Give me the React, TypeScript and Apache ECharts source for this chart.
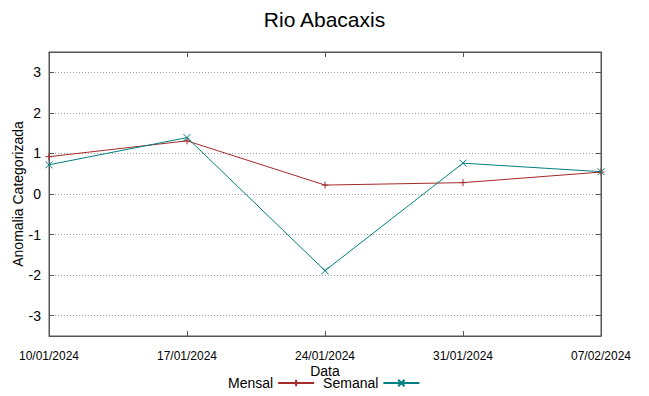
import React, { useEffect, useRef } from "react";
import * as echarts from "echarts";

const dates = ["10/01/2024", "17/01/2024", "24/01/2024", "31/01/2024", "07/02/2024"];
const mensal = [0.92, 1.31, 0.22, 0.28, 0.54];
const semanal = [0.72, 1.39, -1.89, 0.76, 0.55];
const yTicks = [-3, -2, -1, 0, 1, 2, 3];

const FONT = "Liberation Sans";
const RED = "#a52a2a";
const TEAL = "#008080";

export default function App() {
  const ref = useRef<HTMLDivElement>(null);
  useEffect(() => {
    const chart = echarts.init(ref.current!, null, { renderer: "svg" });
    chart.setOption({
      animation: false,
      title: {
        text: "Rio Abacaxis",
        left: "center",
        top: 4,
        textStyle: { fontFamily: FONT, fontSize: 21, fontWeight: "normal", color: "#000" },
      },
      legend: {
        left: 223,
        top: 371,
        align: "right",
        itemWidth: 36,
        itemHeight: 8,
        itemGap: 8,
        textStyle: { fontFamily: FONT, fontSize: 14, color: "#000" },
        data: ["Mensal", "Semanal"],
      },
      grid: {
        left: 49,
        right: 48,
        top: 52,
        bottom: 60,
        show: true,
        borderColor: "#555",
        borderWidth: 1,
        backgroundColor: "transparent",
        containLabel: false,
        outerBoundsMode: "none",
      },
      xAxis: [
        {
          type: "category",
          data: dates,
          boundaryGap: false,
          position: "bottom",
          name: "Data",
          nameLocation: "middle",
          nameGap: 28,
          nameMoveOverlap: false,
          nameTextStyle: { fontFamily: FONT, fontSize: 14, color: "#000" },
          axisLine: { show: true, onZero: false, lineStyle: { color: "#555" } },
          axisTick: { inside: true, length: 5, lineStyle: { color: "#555" } },
          axisLabel: { fontFamily: FONT, fontSize: 12, color: "#000", margin: 14 },
          splitLine: { show: false },
        },
        {
          type: "category",
          data: dates,
          boundaryGap: false,
          position: "top",
          axisLine: { show: true, onZero: false, lineStyle: { color: "#555" } },
          axisTick: { inside: true, length: 5, lineStyle: { color: "#555" } },
          axisLabel: { show: false },
          splitLine: { show: false },
        },
      ],
      yAxis: [
        {
          type: "value",
          min: -3.5,
          max: 3.5,
          position: "left",
          name: "Anomalia Categorizada",
          nameLocation: "middle",
          nameGap: 24,
          nameMoveOverlap: false,
          nameTextStyle: { fontFamily: FONT, fontSize: 14, color: "#000" },
          axisLine: { show: true, onZero: false, lineStyle: { color: "#555" } },
          axisTick: { show: true, inside: true, length: 5, customValues: yTicks, lineStyle: { color: "#555" } },
          axisLabel: { fontFamily: FONT, fontSize: 14, color: "#000", margin: 8, customValues: yTicks },
          splitLine: { show: true, lineStyle: { color: "#a0a0a0", type: [1, 2], width: 1 } },
        },
        {
          type: "value",
          min: -3.5,
          max: 3.5,
          position: "right",
          axisLine: { show: true, onZero: false, lineStyle: { color: "#555" } },
          axisTick: { show: true, inside: true, length: 5, customValues: yTicks, lineStyle: { color: "#555" } },
          axisLabel: { show: false, customValues: yTicks },
          splitLine: { show: false },
        },
      ],
      series: [
        {
          name: "Mensal",
          type: "line",
          data: mensal,
          symbol: "path://M0,4L8,4M4,0L4,8",
          symbolSize: 7,
          showAllSymbol: true,
          lineStyle: { color: RED, width: 1 },
          itemStyle: { color: RED, borderColor: RED, borderWidth: 1 },
        },
        {
          name: "Semanal",
          type: "line",
          data: semanal,
          symbol: "path://M0,0L8,8M8,0L0,8",
          symbolSize: 7,
          showAllSymbol: true,
          lineStyle: { color: TEAL, width: 1 },
          itemStyle: { color: TEAL, borderColor: TEAL, borderWidth: 1 },
        },
      ],
    });
    return () => chart.dispose();
  }, []);
  return <div ref={ref} style={{ width: 649, height: 396, position: "absolute", left: 0, top: 0 }} />;
}
